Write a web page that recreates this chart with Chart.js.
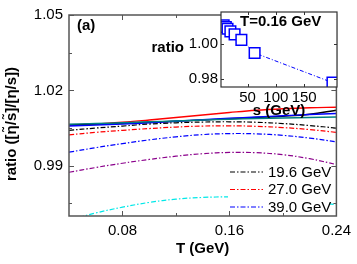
<!DOCTYPE html>
<html>
<head>
<meta charset="utf-8">
<script src="https://cdn.jsdelivr.net/npm/chart.js@4.4.0/dist/chart.umd.min.js"></script>
<style>
html, body { margin: 0; padding: 0; background: #fff; }
#wrap { position: relative; width: 357px; height: 264px; }
#main { position: absolute; left: 0; top: 0; }
#inset { position: absolute; left: 150px; top: 0; }
</style>
</head>
<body>
<div id="wrap">
  <canvas id="main" width="357" height="264"></canvas>
  <canvas id="inset" width="207" height="125"></canvas>
</div>
<script>
// temperature grid (GeV)
var temps = [0.04, 0.06, 0.08, 0.10, 0.12, 0.14, 0.16, 0.18, 0.20, 0.22, 0.24];

// dash-dot curves
var dd196 = [1.0041, 1.0050, 1.0058, 1.0066, 1.0071, 1.0074, 1.0075, 1.0073, 1.0068, 1.0060, 1.0050];
var dd270 = [1.0023, 1.0033, 1.0041, 1.0048, 1.0054, 1.0058, 1.0059, 1.0057, 1.0052, 1.0044, 1.0033];
var dd390 = [0.9954, 0.9972, 0.9988, 1.0003, 1.0015, 1.0024, 1.0028, 1.0027, 1.0021, 1.0010, 0.9995];
var dd624 = [0.9874, 0.9893, 0.9910, 0.9925, 0.9938, 0.9948, 0.9953, 0.9952, 0.9944, 0.9928, 0.9905];
var dd200 = [0.9683, 0.9712, 0.9735, 0.9754, 0.9767, 0.9774, 0.9776, 0.9774, 0.9767, 0.9757, 0.9745];

// solid curves
var solidRed   = [1.0062, 1.0066, 1.0073, 1.0082, 1.0092, 1.0102, 1.0112, 1.0121, 1.0127, 1.0131, 1.0133];
var solidBlue  = [1.0058, 1.0062, 1.0066, 1.0071, 1.0077, 1.0083, 1.0089, 1.0094, 1.0099, 1.0104, 1.0108];
var solidBlack = [1.0063, 1.0066, 1.0069, 1.0073, 1.0077, 1.0082, 1.0087, 1.0092, 1.0097, 1.0105, 1.0121];
var solidTeal  = [1.0065, 1.0068, 1.0071, 1.0075, 1.0078, 1.0082, 1.0085, 1.0088, 1.0090, 1.0092, 1.0094];

// inset: ratio at T = 0.16 GeV vs sqrt(s)
var energies = [7.7, 11.5, 14.5, 19.6, 27.0, 39.0, 62.4, 200];
var ratioT016 = [1.0105, 1.0095, 1.0085, 1.0070, 1.0053, 1.0022, 0.9948, 0.9780];

// ticks
var xTicks = [0.08, 0.12, 0.16, 0.20, 0.24];
var xLabelTicks = [0.08, 0.16, 0.24];
var yTicks = [0.975, 0.99, 1.005, 1.02, 1.035, 1.05];
var yLabelTicks = [0.99, 1.02, 1.05];
var insetXTicks = [50, 100, 150];
var insetYTicks = [0.98, 1.00];

var legendLabels = ['19.6 GeV', '27.0 GeV', '39.0 GeV'];
var legendColors = ['#000000', '#ff0000', '#0000ff'];

var FONT = "'Liberation Sans', Arial, sans-serif";
var DASHDOT = [5, 2, 1.5, 2];

function pts(xs, ys) {
  var out = [];
  for (var i = 0; i < xs.length; i++) out.push({ x: xs[i], y: ys[i] });
  return out;
}
function has(list, v) {
  for (var i = 0; i < list.length; i++) if (Math.abs(list[i] - v) < 1e-9) return true;
  return false;
}

function dd(data, color) {
  return { data: pts(temps, data), borderColor: color, borderWidth: 1.2, borderDash: DASHDOT, fill: false };
}
function solid(data, color) {
  return { data: pts(temps, data), borderColor: color, borderWidth: 1.4, fill: false };
}

var mainDecor = {
  id: 'mainDecor',
  afterDatasetsDraw: function (chart) {
    var ctx = chart.ctx, a = chart.chartArea;
    var xs = chart.scales.x, ys = chart.scales.y;
    ctx.save();
    // legend
    ctx.fillStyle = '#fff';
    ctx.fillRect(228, 164, 101, 51);
    ctx.font = '15px ' + FONT;
    ctx.textBaseline = 'middle';
    ctx.textAlign = 'left';
    for (var i = 0; i < legendLabels.length; i++) {
      var ly = 172 + i * 17.5;
      ctx.strokeStyle = legendColors[i];
      ctx.lineWidth = 1.2;
      ctx.setLineDash(DASHDOT);
      ctx.beginPath(); ctx.moveTo(230, ly); ctx.lineTo(263, ly); ctx.stroke();
      ctx.setLineDash([]);
      ctx.fillStyle = '#000';
      ctx.fillText(legendLabels[i], 268, ly + 0.5);
    }
    // frame
    ctx.strokeStyle = '#555';
    ctx.lineWidth = 1.5;
    ctx.strokeRect(a.left, a.top, a.right - a.left, a.bottom - a.top);
    // inward ticks, all four sides
    ctx.lineWidth = 1;
    xTicks.forEach(function (v) {
      var px = Math.round(xs.getPixelForValue(v)) + 0.5;
      var len = has(xLabelTicks, v) ? 5 : 3;
      ctx.beginPath();
      ctx.moveTo(px, a.bottom); ctx.lineTo(px, a.bottom - len);
      ctx.moveTo(px, a.top); ctx.lineTo(px, a.top + len);
      ctx.stroke();
    });
    yTicks.forEach(function (v) {
      var py = Math.round(ys.getPixelForValue(v)) + 0.5;
      var len = has(yLabelTicks, v) ? 5 : 3;
      ctx.beginPath();
      ctx.moveTo(a.left, py); ctx.lineTo(a.left + len, py);
      ctx.moveTo(a.right, py); ctx.lineTo(a.right - len, py);
      ctx.stroke();
    });
    // texts
    ctx.fillStyle = '#000';
    ctx.font = 'bold 15px ' + FONT;
    ctx.textAlign = 'left';
    ctx.fillText('(a)', 77, 26);
    ctx.textAlign = 'center';
    ctx.fillText('T (GeV)', (a.left + a.right) / 2, 249);
    ctx.translate(12, 124);
    ctx.rotate(-Math.PI / 2);
    ctx.fillText('ratio ([\u03b7\u0303/s\u0303]/[\u03b7/s])', 0, 0);
    ctx.restore();
  }
};

new Chart(document.getElementById('main'), {
  type: 'line',
  data: {
    datasets: [
      dd(dd200, '#00e8e8'),
      dd(dd624, '#8b008b'),
      dd(dd390, '#0000ff'),
      dd(dd270, '#ff0000'),
      dd(dd196, '#000000'),
      solid(solidTeal, '#008080'),
      solid(solidBlue, '#0000ff'),
      solid(solidBlack, '#000000'),
      solid(solidRed, '#ff0000')
    ]
  },
  options: {
    responsive: false,
    animation: false,
    layout: { padding: { top: 8, right: 17, left: 0, bottom: 0 } },
    elements: { point: { radius: 0 }, line: { tension: 0.4 } },
    plugins: { legend: { display: false }, tooltip: { enabled: false } },
    scales: {
      x: {
        type: 'linear', min: 0.04, max: 0.24,
        afterBuildTicks: function (s) { s.ticks = xTicks.map(function (v) { return { value: v }; }); },
        afterFit: function (s) { s.height = 48; },
        grid: { display: false, drawTicks: false },
        border: { display: false },
        ticks: {
          autoSkip: false, maxRotation: 0, padding: 6, color: '#000',
          font: { family: FONT, size: 15 },
          callback: function (v) { return has(xLabelTicks, v) ? v.toFixed(2) : ''; }
        }
      },
      y: {
        min: 0.97, max: 1.05,
        afterBuildTicks: function (s) { s.ticks = yTicks.map(function (v) { return { value: v }; }); },
        afterFit: function (s) { s.width = 69; },
        grid: { display: false, drawTicks: false },
        border: { display: false },
        ticks: {
          autoSkip: false, padding: 6, color: '#000',
          font: { family: FONT, size: 15 },
          callback: function (v) { return has(yLabelTicks, v) ? v.toFixed(2) : ''; }
        }
      }
    }
  },
  plugins: [mainDecor]
});

var insetDecor = {
  id: 'insetDecor',
  beforeDatasetsDraw: function (chart) {
    var ctx = chart.ctx, a = chart.chartArea;
    ctx.save();
    ctx.fillStyle = '#fff';
    ctx.fillRect(a.left, a.top, a.right - a.left, a.bottom - a.top);
    ctx.restore();
  },
  afterDatasetsDraw: function (chart) {
    var ctx = chart.ctx, a = chart.chartArea;
    var xs = chart.scales.x, ys = chart.scales.y;
    ctx.save();
    ctx.strokeStyle = '#333';
    ctx.lineWidth = 1.2;
    ctx.strokeRect(a.left, a.top, a.right - a.left, a.bottom - a.top);
    ctx.lineWidth = 1;
    insetXTicks.forEach(function (v) {
      var px = Math.round(xs.getPixelForValue(v)) + 0.5;
      ctx.beginPath();
      ctx.moveTo(px, a.bottom); ctx.lineTo(px, a.bottom - 3);
      ctx.moveTo(px, a.top); ctx.lineTo(px, a.top + 3);
      ctx.stroke();
    });
    insetYTicks.forEach(function (v) {
      var py = Math.round(ys.getPixelForValue(v)) + 0.5;
      ctx.beginPath();
      ctx.moveTo(a.left, py); ctx.lineTo(a.left + 3, py);
      ctx.moveTo(a.right, py); ctx.lineTo(a.right - 3, py);
      ctx.stroke();
    });
    ctx.fillStyle = '#000';
    ctx.font = 'bold 15px ' + FONT;
    ctx.textBaseline = 'middle';
    ctx.textAlign = 'left';
    ctx.fillText('T=0.16 GeV', 90, 22);
    ctx.textAlign = 'right';
    ctx.fillText('ratio', 34, 48);
    ctx.textAlign = 'center';
    ctx.fillText('s (GeV)', (a.left + a.right) / 2, 111);
    ctx.restore();
  }
};

new Chart(document.getElementById('inset'), {
  type: 'line',
  data: {
    datasets: [{
      data: pts(energies, ratioT016),
      borderColor: '#0000ff', borderWidth: 1, borderDash: [4, 2, 1, 2],
      tension: 0, fill: false,
      pointStyle: 'rect', pointRadius: 7.5, pointBorderWidth: 1.5,
      pointBorderColor: '#0000ff', pointBackgroundColor: '#fff'
    }]
  },
  options: {
    responsive: false,
    animation: false,
    layout: { padding: { top: 11, right: 20, left: 0, bottom: 0 } },
    plugins: { legend: { display: false }, tooltip: { enabled: false } },
    scales: {
      x: {
        type: 'linear', min: 3, max: 208,
        afterBuildTicks: function (s) { s.ticks = insetXTicks.map(function (v) { return { value: v }; }); },
        afterFit: function (s) { s.height = 38; },
        grid: { display: false, drawTicks: false },
        border: { display: false },
        ticks: {
          autoSkip: false, maxRotation: 0, padding: 2, color: '#000',
          font: { family: FONT, size: 15 },
          callback: function (v) { return String(v); }
        }
      },
      y: {
        min: 0.9755, max: 1.018,
        afterBuildTicks: function (s) { s.ticks = insetYTicks.map(function (v) { return { value: v }; }); },
        afterFit: function (s) { s.width = 71; },
        grid: { display: false, drawTicks: false },
        border: { display: false },
        ticks: {
          autoSkip: false, padding: 3, color: '#000',
          font: { family: FONT, size: 15 },
          callback: function (v) { return v.toFixed(2); }
        }
      }
    }
  },
  plugins: [insetDecor]
});
</script>
</body>
</html>
